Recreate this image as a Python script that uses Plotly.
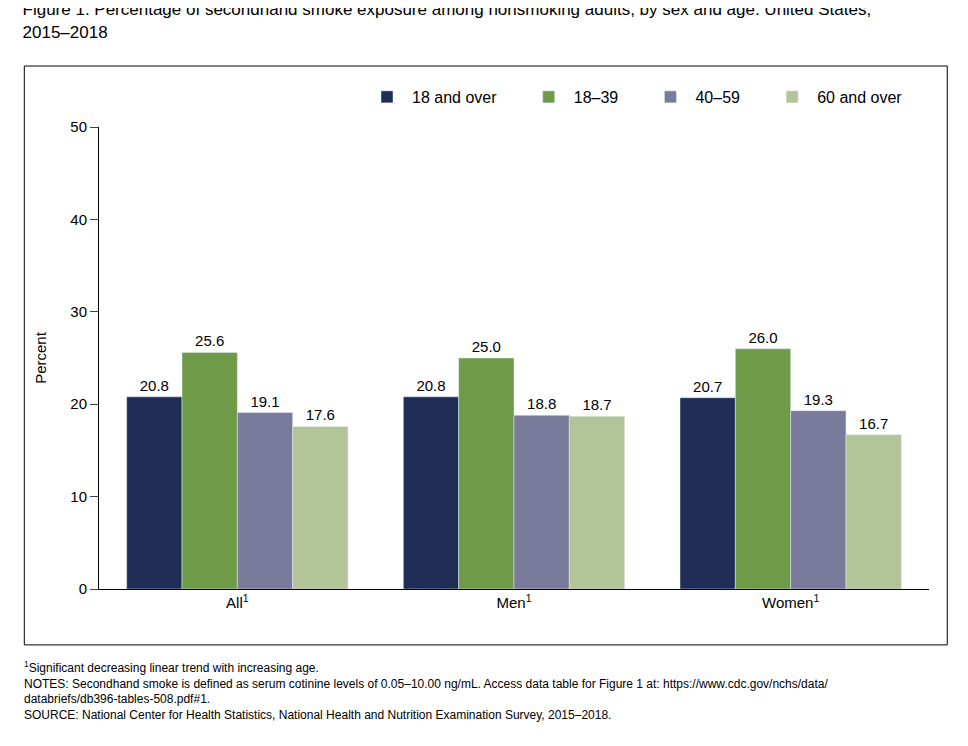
import plotly.graph_objects as go

categories = ["All<sup>1</sup>", "Men<sup>1</sup>", "Women<sup>1</sup>"]
series_names = ["18 and over", "18–39", "40–59", "60 and over"]
values = [
    [20.8, 20.8, 20.7],
    [25.6, 25.0, 26.0],
    [19.1, 18.8, 19.3],
    [17.6, 18.7, 16.7],
]
colors = ["#1f2c55", "#6f9a48", "#7a7b9a", "#b3c598"]

fig = go.Figure()
for name, vals, col in zip(series_names, values, colors):
    fig.add_trace(go.Bar(
        x=categories, y=vals, name=name + "     ", marker_color=col,
        text=[f"{v:.1f}" for v in vals], textposition="outside",
        textfont=dict(size=15, color="black"), cliponaxis=False,
    ))

fig.update_layout(
    width=968, height=746,
    font=dict(family="Liberation Sans, Arial", color="black", size=15),
    paper_bgcolor="white", plot_bgcolor="white",
    margin=dict(l=91, r=47, t=119, b=165),
    barmode="group", bargap=0.2, bargroupgap=0,
    showlegend=True,
    legend=dict(orientation="h", x=1.0, xanchor="right", y=1.065, yanchor="middle",
                font=dict(size=16), traceorder="normal", itemwidth=40),
    yaxis=dict(range=[0, 50], dtick=10, showgrid=False, zeroline=False,
               showline=True, linecolor="black", ticks="outside", ticklen=8,
               tickfont=dict(size=15),
               title=dict(text="Percent", font=dict(size=15), standoff=20)),
    xaxis=dict(showline=True, linecolor="black", ticks="", tickfont=dict(size=15)),
    title=dict(text="Figure 1. Percentage of secondhand smoke exposure among nonsmoking adults, by sex and age: United States,<br>2015–2018",
               x=0.015, xanchor="left", y=0.99, yanchor="top", font=dict(size=17)),
)

fig.add_shape(type="rect", xref="paper", yref="paper",
              x0=-0.09, x1=1.022, y0=-0.121, y1=1.132,
              line=dict(color="black", width=1))

notes = ("<sup>1</sup>Significant decreasing linear trend with increasing age.<br>"
         "NOTES: Secondhand smoke is defined as serum cotinine levels of 0.05–10.00 ng/mL. Access data table for Figure 1 at: https://www.cdc.gov/nchs/data/<br>"
         "databriefs/db396-tables-508.pdf#1.<br>"
         "SOURCE: National Center for Health Statistics, National Health and Nutrition Examination Survey, 2015–2018.")
fig.add_annotation(text=notes, xref="paper", yref="paper", x=-0.093, y=-0.148,
                   xanchor="left", yanchor="top", align="left", showarrow=False,
                   font=dict(size=12))

fig.write_html("out.html")
